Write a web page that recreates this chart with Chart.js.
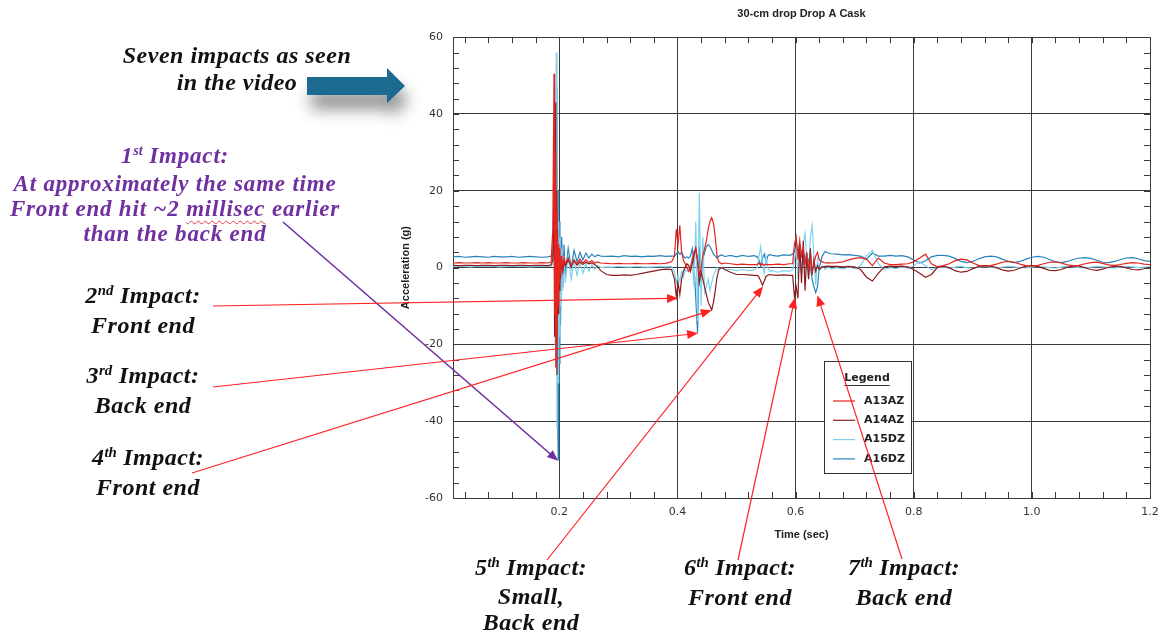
<!DOCTYPE html>
<html>
<head>
<meta charset="utf-8">
<title>30-cm drop Drop A Cask</title>
<script src="https://cdn.jsdelivr.net/npm/chart.js@4.4.1/dist/chart.umd.min.js"></script>
<style>
    body { margin: 0; background: #fff; }
    #page { position: relative; width: 1161px; height: 642px; overflow: hidden; }
    #reportChart { position: absolute; left: 0; top: 0; }
    .note {
        position: absolute;
        width: 360px;
        text-align: center;
        font-family: "Liberation Serif", "DejaVu Serif", serif;
        font-style: italic;
        font-weight: bold;
        font-size: 24px;
        letter-spacing: 0.5px;
        line-height: 27px;
        color: #111;
        white-space: nowrap;
    }
    .note .sup { font-size: 0.62em; position: relative; top: -0.55em; letter-spacing: 0; }
    .purple { color: #7030a0; font-size: 23px; letter-spacing: 0.8px; line-height: 25px; }
    .squiggle { text-decoration: underline wavy #e04040 1px; text-underline-offset: 4px; }
</style>
</head>
<body>
<div id="page">
    <canvas id="reportChart" width="1161" height="642"></canvas>

    <div class="note" style="left:57px; top:42px;">Seven impacts as seen<br>in the video</div>

    <div class="note purple" style="left:-5px; top:143px;">1<span class="sup">st</span> Impact:<br>At approximately the same time<br>Front end hit ~2 <span class="squiggle">millisec</span> earlier<br>than the back end</div>

    <div class="note" style="left:-37px; top:282px;">2<span class="sup">nd</span> Impact:<br>Front end</div>
    <div class="note" style="left:-37px; top:362px;">3<span class="sup">rd</span> Impact:<br>Back end</div>
    <div class="note" style="left:-32px; top:444px;">4<span class="sup">th</span> Impact:<br>Front end</div>

    <div class="note" style="left:351px; top:554px; line-height:26px;">5<span class="sup">th</span> Impact:<br>Small,<br>Back end</div>
    <div class="note" style="left:560px; top:554px;">6<span class="sup">th</span> Impact:<br>Front end</div>
    <div class="note" style="left:724px; top:554px;">7<span class="sup">th</span> Impact:<br>Back end</div>
</div>

<script>
console.log("Drop chart JS Loaded");

// ==========================
// DATA
// ==========================

const chartTitle = "30-cm drop Drop A Cask";
const xAxisTitle = "Time (sec)";
const yAxisTitle = "Acceleration (g)";

const seriesNames = ["A13AZ", "A14AZ", "A15DZ", "A16DZ"];
const seriesColors = ["#e5231f", "#8c1c1e", "#7fd2ee", "#2a82b9"];

const timeSec = [
    0.02, 0.03, 0.04, 0.05, 0.06, 0.07, 0.08, 0.09, 0.10, 0.11, 0.12, 0.13, 0.14, 0.15, 0.16, 0.17, 0.18, 0.186,
    0.189, 0.191, 0.192, 0.193, 0.194, 0.195, 0.196, 0.197, 0.198, 0.199, 0.200, 0.201, 0.202, 0.204, 0.206, 0.208, 0.210,
    0.215, 0.22, 0.225, 0.23, 0.235, 0.24, 0.245, 0.25, 0.255, 0.26, 0.265, 0.27,
    0.28, 0.29, 0.30, 0.31, 0.32, 0.33, 0.34, 0.35, 0.36, 0.37, 0.38, 0.39,
    0.395, 0.398, 0.401, 0.404, 0.407, 0.41, 0.413, 0.416, 0.419, 0.422, 0.425, 0.428, 0.431, 0.434,
    0.437, 0.44, 0.443, 0.446, 0.449, 0.452, 0.455, 0.458, 0.461, 0.464, 0.467, 0.47, 0.475, 0.48,
    0.49, 0.50, 0.51, 0.52, 0.53, 0.535, 0.538, 0.541, 0.544, 0.547, 0.55, 0.553, 0.556, 0.56, 0.57, 0.58, 0.59,
    0.595, 0.598, 0.601, 0.604, 0.607, 0.61, 0.613, 0.616, 0.619, 0.622, 0.625, 0.628, 0.631, 0.634, 0.637, 0.64, 0.645, 0.65, 0.655, 0.66,
    0.67, 0.68, 0.69, 0.70, 0.71, 0.72, 0.73, 0.74, 0.75, 0.76,
    0.77, 0.78, 0.79, 0.80, 0.81, 0.82, 0.83, 0.84, 0.85, 0.86,
    0.87, 0.88, 0.89, 0.90, 0.91, 0.92, 0.93, 0.94, 0.95, 0.96,
    0.97, 0.98, 0.99, 1.00, 1.01, 1.02, 1.03, 1.04, 1.05, 1.06,
    1.07, 1.08, 1.09, 1.10, 1.11, 1.12, 1.13, 1.14, 1.15, 1.16,
    1.17, 1.18, 1.19, 1.20
];

const a13az = [
    1.2, 1.3, 1.2, 1.2, 1.3, 1.2, 1.3, 1.2, 1.2, 1.3, 1.2, 1.2, 1.3, 1.2, 1.2, 1.3, 1.2, 1.4,
    10, 50.5, -12, 30, -26, 15, -20, 8, -10, 6, -4, 5, -2, 3, 0, 2.5, 1,
    2.5, 0.5, 2, 1, 2.2, 1.2, 2, 1.3, 1.8, 1.2, 1.5, 1.2,
    1.1, 1.0, 1.1, 1.0, 1.0, 1.1, 1.0, 1.0, 1.1, 1.0, 1.1, 1.5,
    3, 10, 6, 11, 4, 2, 1, 0, -1, 0, 2, 4, 5, 2,
    -2, 0, 3, 5, 7, 10, 12, 13, 11.5, 8, 3, 1.5, 1, 1.2,
    1.0, 0.8, 0.9, 0.8, 0.8, 0.8, 1.2, 0.5, 1.0, 0.6, 0.9, 0.8, 0.8, 0.8, 0.9, 0.8, 1.0,
    1, 6, 8, 2, 7, 3, 5, 1, 3, 0, 2, -1, 1, 3, 4, 2, 1.5, 1.2, 1.3, 1.2,
    1.3, 1.5, 2.0, 2.4, 2.6, 2.2, 0.5, 2.5, 1.2, 0.8,
    0.8, 0.9, 1.0, 1.5, 2.5, 3.5, 1.0, 0.2, 0.5, 1.0,
    1.8, 2.2, 2.0, 1.2, 0.6, 0.4, 0.5, 0.9, 1.4, 1.6,
    1.4, 0.9, 0.5, 0.4, 0.6, 1.0, 1.4, 1.5, 1.2, 0.7,
    0.5, 0.6, 1.0, 1.3, 1.4, 1.1, 0.7, 0.6, 0.8, 1.1,
    1.3, 1.2, 0.9, 0.8
];

const a14az = [
    0.6, 0.5, 0.6, 0.6, 0.5, 0.6, 0.6, 0.5, 0.6, 0.6, 0.5, 0.6, 0.6, 0.5, 0.6, 0.6, 0.5, 0.7,
    2, 20, -18, 43, -15, 20, -28, 10, -12, 5, -6, 3, -3, 2, -1, 1.5, 0.5,
    2, 0.2, 1.8, 0.6, 1.5, 0.8, 1.4, 1.0, 1.2, 0.8, 0.2, -0.8,
    -1.8, -2.0, -2.0, -1.9, -2.0, -1.8, -1.5, -1.2, -0.9, -0.6, -0.4, -0.5,
    -3, -7.5, -4, -7, -3, -1, 0, 1, 0.5, -1, 1, 3, 5, 2,
    -4, -1, -3, -5, -7, -9, -10, -11, -9, -6, -2.5, -0.5, 0, -0.5,
    -1.2, -1.8, -1.8, -1.9, -2.0, -2.0, -2.5, -3.5, -4.6, -3.5, -2.3, -2.0, -1.8, -1.9, -2.0, -1.9, -2.0,
    -2, -7.5, -5, -8, 6, -4, 7, -6, 4, -3, 5, -2, 2, -1, 0.5, -0.5, 0.2, 0.3, 0.4, 0.3,
    0.3, 0.2, 0.3, 0.2, -0.5, -2.5, -3.5, -1.5, 0.2, 0.4,
    0.3, 0.4, 0.2, -0.5, -1.5, -2.5, -1.8, 0.0, 0.4, 0.0,
    -0.8, -1.2, -1.0, -0.3, 0.3, 0.5, 0.4, 0.0, -0.6, -0.9,
    -0.7, -0.1, 0.4, 0.5, 0.3, -0.2, -0.7, -0.8, -0.5, 0.1,
    0.4, 0.4, 0.0, -0.5, -0.7, -0.4, 0.1, 0.4, 0.3, -0.1,
    -0.5, -0.6, -0.3, 0.1
];

const a15dz = [
    0.3, 0.4, 0.3, 0.2, 0.3, 0.4, 0.3, 0.3, 0.2, 0.3, 0.4, 0.3, 0.3, 0.2, 0.3, 0.4, 0.3, 0.3,
    1, 12, 35, -20, 45, 56, -42, 20, -30, 12, -18, 8, -10, 5, -6, 3, -4,
    3, -3, 2, -2, 1.5, -1.5, 1, -1, 0.8, -0.5, 0.5, 0,
    0.2, 0.1, 0.3, 0.2, 0.1, 0.3, 0.2, 0.1, 0.2, 0.3, 0.2, 0.3,
    -1, -4, -2, -3.5, -1, -2.5, -0.5, -1, 0, -1, 3, -5, 12, -14,
    19.5, -10, 8, -6.5, -5, -3, -6, -4, -2, -1, 0, -0.5, 0, -0.5,
    -0.5, -0.8, -0.5, -0.8, -0.6, 0, 3, 5.5, 1, -1.5, 3, 0, -1, -0.8, -1.2, -0.8, -1.0,
    -0.5, 2, 5, -3, 4, -2, 6, 9, 2, -3, 8, 11, 3, -4.5, 2, -1, 0.5, -0.5, 0.3, -0.3,
    0.0, -0.4, 0.2, -0.3, 0.5, 3.0, 4.5, 1.0, -0.5, 0.0,
    -0.3, 0.2, -0.2, 0.5, 1.5, 0.5, -0.5, 0.0, 0.2, -0.2,
    0.1, 0.3, 0.0, -0.2, 0.1, 0.3, 0.1, -0.1, 0.1, 0.3,
    0.2, 0.0, -0.1, 0.1, 0.3, 0.2, 0.0, -0.1, 0.1, 0.3,
    0.2, 0.0, -0.1, 0.1, 0.3, 0.2, 0.0, -0.1, 0.1, 0.3,
    0.2, 0.0, 0.1, 0.2
];

const a16dz = [
    2.8, 2.9, 2.7, 2.8, 2.9, 2.8, 2.7, 2.9, 2.8, 2.8, 2.9, 2.7, 2.8, 2.9, 2.8, 2.7, 2.8, 3.0,
    3, 8, 25, -10, 30, -20, 47, -30, -50, 20, -25, 12, -15, 8, -5, 6, -2,
    5, 0, 4.5, 1.5, 4, 2, 3.8, 2.5, 3.5, 2.8, 3.3, 3,
    2.9, 3.0, 2.8, 3.1, 2.9, 3.0, 2.8, 3.0, 2.9, 3.1, 2.9, 3.0,
    3, 3.5, 4.2, 3.5, 4, 3, 2.5, 2.8, 2.5, 3, 5, 1, -8, -17,
    5.5, -3, 2, 4, 5.5, 6, 5.5, 4.5, 3.5, 3, 2.5, 3, 3.3, 2.9,
    3.2, 2.8, 3.2, 2.9, 3.1, 2.8, 2.0, 0.5, 2.5, 3.5, 1.5, 3, 3.4, 3.2, 3.0, 3.3, 3.2,
    3.5, 4.5, 3, 5.5, 2, 4, 1, 3, 0, 2, 0, -3, -5, -6.5, -5, 0, 3, 4.2, 3.8, 3.6,
    3.5, 3.3, 3.4, 3.2, 3.0, 2.2, 3.8, 3.0, 3.0, 3.2,
    3.0, 3.1, 2.8, 2.0, 1.2, 1.8, 2.8, 3.2, 3.2, 3.0,
    2.4, 1.6, 1.3, 1.6, 2.3, 2.8, 3.0, 2.8, 2.2, 1.6,
    1.3, 1.6, 2.2, 2.7, 2.9, 2.7, 2.1, 1.5, 1.3, 1.6,
    2.1, 2.5, 2.6, 2.4, 1.9, 1.4, 1.3, 1.6, 2.1, 2.5,
    2.6, 2.3, 1.8, 1.6
];

const seriesValues = [a13az, a14az, a15dz, a16dz];

const xRange = [0.02, 1.2];
const yRange = [-60, 60];
const xMinorStep = 0.04;
const xMajorStep = 0.2;
const yMinorStep = 4;
const yMajorStep = 20;

// arrows: start is a page pixel next to the text, end is a point on the data (time, g)
const impactArrows = [
    { from: [283, 222], at: [0.198, -50.3], color: "#7030a0", width: 1.6 },
    { from: [213, 306], at: [0.401, -8.0], color: "#ff2222", width: 1.2 },
    { from: [213, 387], at: [0.435, -17.1], color: "#ff2222", width: 1.2 },
    { from: [192, 473], at: [0.458, -11.1], color: "#ff2222", width: 1.2 },
    { from: [547, 560], at: [0.545, -4.9], color: "#ff2222", width: 1.2 },
    { from: [738, 560], at: [0.599, -7.8], color: "#ff2222", width: 1.2 },
    { from: [902, 559], at: [0.637, -7.2], color: "#ff2222", width: 1.2 }
];

seriesValues.forEach((vals, i) => {
    if (vals.length !== timeSec.length) {
        console.log("Length mismatch", seriesNames[i], vals.length, timeSec.length);
    }
});

// ==========================
// HELPERS
// ==========================

function isMajor(value, step) {
    return Math.abs(value / step - Math.round(value / step)) < 1e-6;
}

function drawArrow(ctx, x1, y1, x2, y2, color, width) {
    const ang = Math.atan2(y2 - y1, x2 - x1);
    const len = 11;
    const half = 4.5;

    ctx.strokeStyle = color;
    ctx.lineWidth = width;
    ctx.beginPath();
    ctx.moveTo(x1, y1);
    ctx.lineTo(x2 - len * 0.8 * Math.cos(ang), y2 - len * 0.8 * Math.sin(ang));
    ctx.stroke();

    ctx.fillStyle = color;
    ctx.beginPath();
    ctx.moveTo(x2, y2);
    ctx.lineTo(x2 - len * Math.cos(ang) + half * Math.sin(ang), y2 - len * Math.sin(ang) - half * Math.cos(ang));
    ctx.lineTo(x2 - len * Math.cos(ang) - half * Math.sin(ang), y2 - len * Math.sin(ang) + half * Math.cos(ang));
    ctx.closePath();
    ctx.fill();
}

// frame ticks, boxed legend, video arrow and impact call-outs
const calloutPlugin = {
    id: "callouts",

    afterDraw(chart) {
        const ctx = chart.ctx;
        const area = chart.chartArea;
        const xs = chart.scales.x;
        const ys = chart.scales.y;

        ctx.save();

        // inner tick marks on all four sides
        ctx.strokeStyle = "#3a3a3a";
        ctx.lineWidth = 1;
        ctx.beginPath();
        xs.ticks.forEach((t) => {
            const px = Math.round(xs.getPixelForValue(t.value)) + 0.5;
            ctx.moveTo(px, area.bottom);
            ctx.lineTo(px, area.bottom - 6);
            ctx.moveTo(px, area.top);
            ctx.lineTo(px, area.top + 6);
        });
        ys.ticks.forEach((t) => {
            const py = Math.round(ys.getPixelForValue(t.value)) + 0.5;
            ctx.moveTo(area.left, py);
            ctx.lineTo(area.left + 6, py);
            ctx.moveTo(area.right, py);
            ctx.lineTo(area.right - 6, py);
        });
        ctx.stroke();

        // legend box
        const lx = 824, ly = 361, lw = 87, lh = 112;
        ctx.fillStyle = "#fff";
        ctx.fillRect(lx, ly, lw, lh);
        ctx.strokeStyle = "#333";
        ctx.strokeRect(lx + 0.5, ly + 0.5, lw, lh);

        ctx.fillStyle = "#222";
        ctx.font = "bold 11px 'DejaVu Sans'";
        ctx.textAlign = "center";
        ctx.textBaseline = "middle";
        ctx.fillText("Legend", lx + 43, ly + 17);
        const lgw = ctx.measureText("Legend").width;
        ctx.beginPath();
        ctx.moveTo(lx + 43 - lgw / 2, ly + 24.5);
        ctx.lineTo(lx + 43 + lgw / 2, ly + 24.5);
        ctx.stroke();

        ctx.textAlign = "left";
        chart.data.datasets.forEach((ds, i) => {
            const rowY = ly + 40 + i * 19.3;
            ctx.strokeStyle = ds.borderColor;
            ctx.lineWidth = 1.2;
            ctx.beginPath();
            ctx.moveTo(lx + 9, rowY);
            ctx.lineTo(lx + 31, rowY);
            ctx.stroke();
            ctx.fillStyle = "#222";
            ctx.fillText(ds.label, lx + 40, rowY);
        });

        // big "as seen in the video" arrow with its soft shadow
        ctx.shadowColor = "rgba(0,0,0,0.45)";
        ctx.shadowBlur = 16;
        ctx.shadowOffsetX = 4;
        ctx.shadowOffsetY = 14;
        ctx.fillStyle = "#1c6a8f";
        ctx.beginPath();
        ctx.moveTo(307, 77);
        ctx.lineTo(387, 77);
        ctx.lineTo(387, 68);
        ctx.lineTo(405, 86);
        ctx.lineTo(387, 103);
        ctx.lineTo(387, 95);
        ctx.lineTo(307, 95);
        ctx.closePath();
        ctx.fill();
        ctx.shadowColor = "rgba(0,0,0,0)";
        ctx.shadowBlur = 0;
        ctx.shadowOffsetX = 0;
        ctx.shadowOffsetY = 0;

        // impact arrows
        impactArrows.forEach((a) => {
            const tx = xs.getPixelForValue(a.at[0]);
            const ty = ys.getPixelForValue(a.at[1]);
            drawArrow(ctx, a.from[0], a.from[1], tx, ty, a.color, a.width);
        });

        ctx.restore();
    }
};

// ==========================
// CHART
// ==========================

window.addEventListener("load", () => {

    const canvas = document.getElementById("reportChart");

    if (!canvas) {
        console.log("Canvas not found");
        return;
    }

    const datasets = seriesNames.map((name, i) => ({
        label: name,
        data: timeSec.map((t, j) => ({ x: t, y: seriesValues[i][j] })),
        borderColor: seriesColors[i],
        backgroundColor: seriesColors[i],
        borderWidth: 1.2,
        pointRadius: 0,
        tension: 0,
        fill: false
    }));

    const gridColor = (step) => (c) =>
        isMajor(c.tick.value, step) ? "#3a3a3a" : "rgba(0,0,0,0)";

    new Chart(canvas, {
        type: "line",

        data: { datasets: datasets },

        options: {

            responsive: false,

            animation: false,

            layout: {
                padding: { left: 399, right: 11, top: 0, bottom: 98 }
            },

            plugins: {

                legend: { display: false },

                tooltip: { enabled: false },

                title: {
                    display: true,
                    text: chartTitle,
                    fullSize: false,
                    color: "#222",
                    font: { family: "Liberation Sans", size: 11, weight: "bold" },
                    padding: { top: 7, bottom: 17 }
                }

            },

            scales: {

                x: {
                    type: "linear",
                    min: xRange[0],
                    max: xRange[1],
                    afterBuildTicks: (scale) => {
                        const ticks = [];
                        for (let i = 1; i * xMinorStep <= xRange[1] + 1e-9; i++) {
                            ticks.push({ value: +(i * xMinorStep).toFixed(2) });
                        }
                        scale.ticks = ticks;
                    },
                    afterFit: (scale) => {
                        scale.height = 46;
                        // the last label may hang past the frame, as in the original
                        scale.paddingLeft = 0;
                        scale.paddingRight = 0;
                    },
                    ticks: {
                        autoSkip: false,
                        maxRotation: 0,
                        padding: 8,
                        color: "#333",
                        font: { family: "DejaVu Sans", size: 11 },
                        callback: (v) => isMajor(v, xMajorStep) ? v.toFixed(1) : ""
                    },
                    grid: { color: gridColor(xMajorStep), lineWidth: 1, drawTicks: false },
                    border: { display: true, color: "#3a3a3a" },
                    title: {
                        display: true,
                        text: xAxisTitle,
                        color: "#222",
                        font: { family: "Liberation Sans", size: 11, weight: "bold" },
                        padding: { top: 0, bottom: 2 }
                    }
                },

                y: {
                    type: "linear",
                    min: yRange[0],
                    max: yRange[1],
                    afterFit: (scale) => { scale.width = 54; },
                    ticks: {
                        stepSize: yMinorStep,
                        autoSkip: false,
                        padding: 10,
                        color: "#333",
                        font: { family: "DejaVu Sans", size: 11 },
                        callback: (v) => isMajor(v, yMajorStep) ? String(v) : ""
                    },
                    grid: { color: gridColor(yMajorStep), lineWidth: 1, drawTicks: false },
                    border: { display: true, color: "#3a3a3a" },
                    title: {
                        display: true,
                        text: yAxisTitle,
                        color: "#222",
                        font: { family: "Liberation Sans", size: 11, weight: "bold" },
                        padding: { top: 0, bottom: 0 }
                    }
                }

            }

        },

        plugins: [calloutPlugin]

    });

});
</script>
</body>
</html>
